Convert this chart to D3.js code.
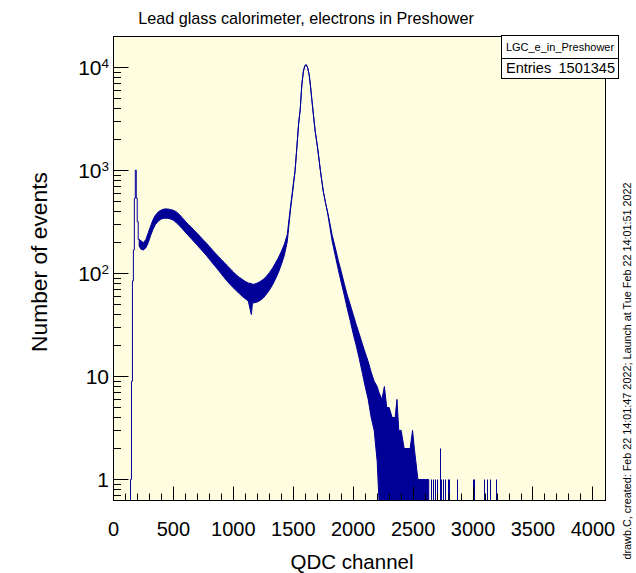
<!DOCTYPE html>
<html><head><meta charset="utf-8">
<script src="https://cdn.jsdelivr.net/npm/d3@7"></script>
<style>
body{margin:0;background:#fff}
svg{display:block}
text{font-family:"Liberation Sans",Arial,Helvetica,sans-serif;fill:#000}
</style>
</head><body>
<svg id="c" width="636" height="573"></svg>
<script>
// ---------------- data ----------------
const titleText = "Lead glass calorimeter, electrons in Preshower";
const xTitle = "QDC channel";
const yTitle = "Number of events";
const statName = "LGC_e_in_Preshower";
const statLabel = "Entries";
const statEntries = "1501345";
const sideNote = "drawb.C, created: Feb 22 14:01:47 2022; Launch at Tue Feb 22 14:01:51 2022";

const xMajorTicks = [0,500,1000,1500,2000,2500,3000,3500,4000];
const xTickLabels = ["0","500","1000","1500","2000","2500","3000","3500","4000"];
const yMajorTicks = [1,10,100,1000,10000];
const yTickBase = ["1","10","10","10","10"];
const yTickExp  = ["","","2","3","4"];

// leading edge of the spectrum (individual bins: lower edge, count)
const edgeLow   = [142,150,158,166,174,182,190,198,206];
const edgeCount = [1,9,85,170,540,1013,540,320,215];

// main spectrum: channel, lower and upper edge of the fluctuation band (counts)
const bandCh = [214,230,250,270,290,310,330,350,375,400,425,450,475,500,525,550,575,600,625,650,675,700,725,750,775,800,825,850,875,900,925,950,975,1000,1025,1050,1075,1100,1125,1150,1160,1175,1200,1225,1250,1275,1300,1325,1350,1375,1400,1425,1450,1475,1500,1515,1530,1545,1558,1572,1585,1597,1608,1620,1632,1641,1655,1669,1683,1697,1711,1725,1739,1752,1770,1786,1805,1825,1850,1875,1900,1925,1950,1975,2000,2025,2050,2075,2100,2125,2150,2175,2200,2215,2240,2260,2280,2300,2325,2350,2365,2380,2400,2425,2450,2475,2495,2510,2540,2575,2600,2630];
const bandLo = [185,172,170,178,200,235,270,300,325,340,345,345,340,330,312,292,272,252,234,218,202,188,174,162,150,138,127,117,108,99,91,84,78,73,68,64,60,57,54,40,52,52,53,55,58,63,69,77,88,102,122,150,205,400,700,1000,1700,2900,3950,7000,9300,10500,10700,10000,8600,7100,4900,3400,2400,1870,1400,1030,780,615,480,390,285,205,150,110,82,62,46,35,26,20,15,11,8,6,4,3,1.5,0,0,0,0,0,0,0,0,0,0,0,0,0,0,0,0,0,0,0];
const bandHi = [215,208,200,215,250,290,335,370,400,415,425,425,420,412,398,375,348,322,300,282,262,245,228,212,198,184,170,158,147,137,128,119,111,104,97,92,88,84,81,80,79,79,81,84,88,94,102,112,126,142,164,192,240,430,740,1000,1700,2900,3950,7000,9300,10500,10700,10000,8600,7100,4900,3400,2400,1870,1400,1030,780,615,480,400,310,235,180,135,105,80,62,50,40,32,26,21,17,14,11,9,8,7,6,8,5,5,4,4,6,3,3,2,2,2,3,2,1,1,1,1];

// isolated entries in the far tail: channel, count
const tailCh    = [2657,2672,2685,2705,2726,2740,2751,2768,2796,2804,2866,3004,3012,3096,3121,3146,3193];
const tailCount = [1,1,1,1,2,1,1,1,1,1,1,1,1,1,1,1,1];

// ---------------- drawing ----------------
const svg = d3.select("#c");
const fL = 113.5, fR = 605.5, fT = 36.5, fB = 500.5;
const lineColor = "#000099";
const frameFill = "#fffde0";

const x = d3.scaleLinear().domain([0, 4105]).range([fL, fR]);
const y = d3.scaleLog().domain([0.625, 20130]).range([fB, fT]);
const yc = v => v <= 0 ? fB : Math.min(fB, y(v));
const px = v => Math.round(x(v) - 0.5) + 0.5;
const py = v => Math.round(y(v) - 0.5) + 0.5;

// frame background
svg.append("rect").attr("x", fL).attr("y", fT).attr("width", fR - fL).attr("height", fB - fT)
  .attr("fill", frameFill).attr("stroke", "none");

svg.append("clipPath").attr("id", "fc").append("rect")
  .attr("x", fL).attr("y", fT).attr("width", fR - fL).attr("height", fB - fT);
const plot = svg.append("g").attr("clip-path", "url(#fc)");

// leading edge step histogram
const edgePts = [[edgeLow[0], 0]].concat(edgeLow.map((e, i) => [e, edgeCount[i]]))
  .concat([[bandCh[0], bandHi[0]]]);
plot.append("path")
  .attr("d", d3.line().x(d => x(d[0])).y(d => yc(d[1])).curve(d3.curveStepAfter)(edgePts))
  .attr("fill", "none").attr("stroke", lineColor).attr("stroke-width", 1);

// main band
const bandData = bandCh.map((c, i) => ({c, lo: bandLo[i], hi: bandHi[i]}));
plot.append("path")
  .attr("d", d3.area().x(d => x(d.c)).y0(d => yc(d.lo)).y1(d => yc(d.hi))(bandData))
  .attr("fill", lineColor).attr("stroke", lineColor).attr("stroke-width", 1)
  .attr("stroke-linejoin", "round");

// isolated tail bins
plot.selectAll("line.tail").data(tailCh.map((c, i) => ({c, n: tailCount[i]})))
  .enter().append("line").attr("class", "tail")
  .attr("x1", d => px(d.c)).attr("x2", d => px(d.c))
  .attr("y1", fB).attr("y2", d => yc(d.n))
  .attr("stroke", lineColor).attr("stroke-width", 1);

// frame border
svg.append("rect").attr("x", fL).attr("y", fT).attr("width", fR - fL).attr("height", fB - fT)
  .attr("fill", "none").attr("stroke", "#000").attr("stroke-width", 1);

// x ticks
const xMinor = d3.range(0, 4001, 100).filter(v => xMajorTicks.indexOf(v) < 0);
svg.selectAll("line.xm").data(xMinor).enter().append("line")
  .attr("x1", d => px(d)).attr("x2", d => px(d)).attr("y1", fB).attr("y2", fB - 7)
  .attr("stroke", "#000").attr("stroke-width", 1);
svg.selectAll("line.xM").data(xMajorTicks).enter().append("line")
  .attr("x1", d => px(d)).attr("x2", d => px(d)).attr("y1", fB).attr("y2", fB - 14)
  .attr("stroke", "#000").attr("stroke-width", 1);
svg.selectAll("text.xl").data(xMajorTicks).enter().append("text")
  .attr("x", d => x(d)).attr("y", 535.5).attr("text-anchor", "middle")
  .attr("font-size", "20px").text((d, i) => xTickLabels[i]);

// y ticks
const yMinor = [];
[0.1, 1, 10, 100, 1000, 10000].forEach(dec => {
  for (let m = 2; m <= 9; m++) {
    const v = dec * m;
    if (v > y.domain()[0] && v < y.domain()[1]) yMinor.push(v);
  }
});
svg.selectAll("line.ym").data(yMinor).enter().append("line")
  .attr("x1", fL).attr("x2", fL + 7.5).attr("y1", d => py(d)).attr("y2", d => py(d))
  .attr("stroke", "#000").attr("stroke-width", 1);
svg.selectAll("line.yM").data(yMajorTicks).enter().append("line")
  .attr("x1", fL).attr("x2", fL + 15).attr("y1", d => py(d)).attr("y2", d => py(d))
  .attr("stroke", "#000").attr("stroke-width", 1);
const yl = svg.selectAll("text.yl").data(yMajorTicks).enter().append("text")
  .attr("x", 109).attr("y", d => y(d) + 7.5).attr("text-anchor", "end")
  .attr("font-size", "21px");
yl.append("tspan").text((d, i) => yTickBase[i]);
yl.append("tspan").attr("font-size", "13.5px").attr("dy", "-7.5")
  .text((d, i) => yTickExp[i]);

// titles
svg.append("text").attr("x", 306).attr("y", 24).attr("text-anchor", "middle")
  .attr("font-size", "16.2px").text(titleText);
svg.append("text").attr("x", 352).attr("y", 568.5).attr("text-anchor", "middle")
  .attr("font-size", "20.5px").text(xTitle);
svg.append("text").attr("transform", "translate(47,262) rotate(-90)")
  .attr("text-anchor", "middle").attr("font-size", "22.8px").text(yTitle);
svg.append("text").attr("transform", "translate(631,371) rotate(-90)")
  .attr("text-anchor", "middle").attr("font-size", "10.8px").text(sideNote);

// stats box
const sb = {x: 501.5, y: 35.5, w: 117, h: 43, mid: 58.5};
svg.append("rect").attr("x", sb.x).attr("y", sb.y).attr("width", sb.w).attr("height", sb.h)
  .attr("fill", "#fff").attr("stroke", "#000").attr("stroke-width", 1);
svg.append("line").attr("x1", sb.x).attr("x2", sb.x + sb.w).attr("y1", sb.mid).attr("y2", sb.mid)
  .attr("stroke", "#000").attr("stroke-width", 1);
svg.append("text").attr("x", sb.x + sb.w / 2).attr("y", 50.5).attr("text-anchor", "middle")
  .attr("font-size", "11px").text(statName);
svg.append("text").attr("x", 506).attr("y", 73).attr("font-size", "14.5px").text(statLabel);
svg.append("text").attr("x", 615).attr("y", 73).attr("text-anchor", "end")
  .attr("font-size", "14.5px").text(statEntries);
</script>
</body></html>
